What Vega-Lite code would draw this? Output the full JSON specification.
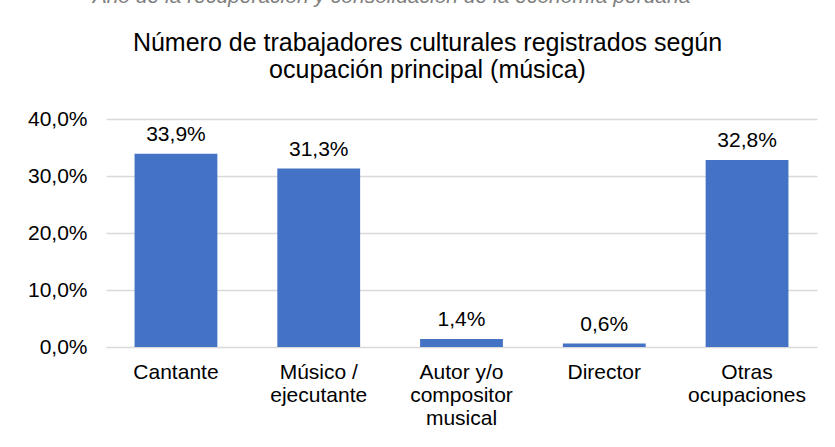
{
  "$schema": "https://vega.github.io/schema/vega-lite/v6.json",
  "width": 711,
  "height": 228,
  "autosize": "none",
  "padding": {"left": 106, "top": 119, "right": 18, "bottom": 100},
  "background": "white",
  "config": {
    "font": "Liberation Sans",
    "view": {"stroke": null},
    "locale": {"number": {"decimal": ",", "thousands": ".", "grouping": [3], "currency": ["", "€"]}}
  },
  "title": {
    "text": "Año de la recuperación y consolidación de la economía peruana",
    "fontSize": 21,
    "fontStyle": "italic",
    "fontWeight": "normal",
    "font": "Liberation Sans",
    "color": "#7f7f7f",
    "anchor": "middle",
    "frame": "group",
    "dx": -70,
    "offset": 23
  },
  "data": {
    "values": [
      {"ocupacion": "Cantante", "pct": 0.339},
      {"ocupacion": "Músico / ejecutante", "pct": 0.313},
      {"ocupacion": "Autor y/o compositor musical", "pct": 0.014},
      {"ocupacion": "Director", "pct": 0.006},
      {"ocupacion": "Otras ocupaciones", "pct": 0.328}
    ]
  },
  "encoding": {
    "x": {
      "field": "ocupacion",
      "type": "nominal",
      "sort": null,
      "scale": {"paddingInner": 0.42, "paddingOuter": 0.2},
      "axis": {
        "title": null,
        "labelAngle": 0,
        "labelFontSize": 21,
        "labelColor": "#000000",
        "labelLineHeight": 23,
        "labelPadding": 14,
        "labelBaseline": "top",
        "domain": false,
        "ticks": false,
        "labelExpr": "datum.value == 'Músico / ejecutante' ? ['Músico /', 'ejecutante'] : datum.value == 'Autor y/o compositor musical' ? ['Autor y/o', 'compositor', 'musical'] : datum.value == 'Otras ocupaciones' ? ['Otras', 'ocupaciones'] : datum.value"
      }
    },
    "y": {
      "field": "pct",
      "type": "quantitative",
      "scale": {"domain": [0, 0.4], "nice": false},
      "axis": {
        "values": [0, 0.1, 0.2, 0.3, 0.4],
        "format": ".1%",
        "labelFontSize": 21,
        "labelColor": "#000000",
        "labelPadding": 19,
        "domain": false,
        "ticks": false,
        "gridColor": "#d9d9d9",
        "gridWidth": 1.5,
        "title": ["Número de trabajadores culturales registrados según", "ocupación principal (música)"],
        "titleAngle": 0,
        "titleAlign": "center",
        "titleBaseline": "alphabetic",
        "titleX": 321,
        "titleY": -69,
        "titleLineHeight": 27,
        "titleFontSize": 25,
        "titleFontWeight": "normal",
        "titleColor": "#000000"
      }
    }
  },
  "layer": [
    {"mark": {"type": "bar", "color": "#4472C4"}},
    {
      "mark": {"type": "text", "baseline": "alphabetic", "dy": -13, "fontSize": 21, "color": "#000000"},
      "encoding": {"text": {"field": "pct", "type": "quantitative", "format": ".1%"}}
    }
  ]
}
